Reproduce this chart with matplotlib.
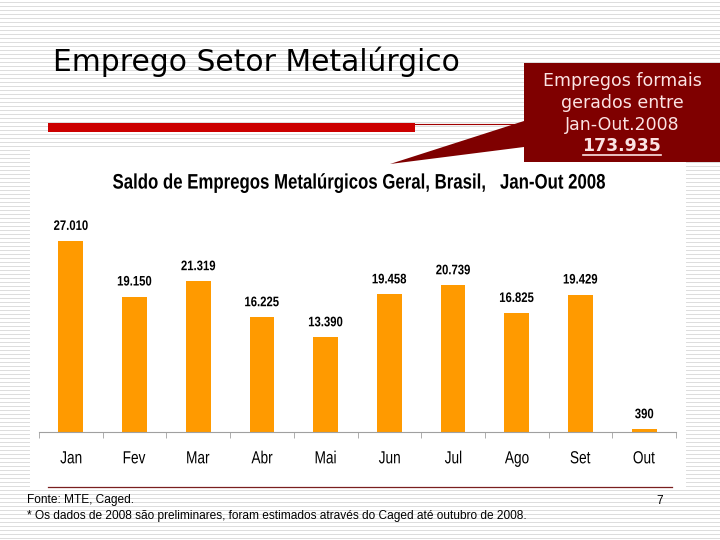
import matplotlib
matplotlib.use("Agg")
import matplotlib.pyplot as plt
from matplotlib.patches import Rectangle, Polygon, PathPatch
from matplotlib.textpath import TextPath
from matplotlib.font_manager import FontProperties
from matplotlib.transforms import Affine2D

# dados (Saldo de empregos metalúrgicos, 2008)
meses = ['Jan', 'Fev', 'Mar', 'Abr', 'Mai', 'Jun', 'Jul', 'Ago', 'Set', 'Out']
saldo = [27010, 19150, 21319, 16225, 13390, 19458, 20739, 16825, 19429, 390]
total = 173935

titulo = 'Emprego Setor Metalúrgico'
titulo_graf = 'Saldo de Empregos Metalúrgicos Geral, Brasil,   Jan-Out 2008'
caixa_txt = ['Empregos formais', 'gerados entre', 'Jan-Out.2008']
fonte = 'Fonte: MTE, Caged.'
nota = '* Os dados de 2008 são preliminares, foram estimados através do Caged até outubro de 2008.'

def fmt(v):
    return f'{v:,}'.replace(',', '.')

W, H = 720, 540
fig = plt.figure(figsize=(7.2, 5.4), dpi=100)

# fundo do slide (coordenadas em pixels, y para baixo)
bg = fig.add_axes([0, 0, 1, 1])
bg.set_xlim(0, W)
bg.set_ylim(H, 0)
bg.axis('off')

def texto_estreito(x, y, s, px, sx, weight='normal', ha='center'):
    # texto "Arial Narrow": fonte normal comprimida na horizontal
    fp = FontProperties(family='Liberation Sans', weight=weight)
    tp = TextPath((0, 0), s, size=px, prop=fp)
    ext = tp.get_extents()
    ox = (ext.x0 + ext.x1) / 2 if ha == 'center' else ext.x0
    tr = Affine2D().translate(-ox, -0.36 * px).scale(sx, -1).translate(x, y)
    bg.add_patch(PathPatch(tr.transform_path(tp), facecolor='black', edgecolor='none',
                           lw=0, zorder=5))

for y in range(1, H, 4):
    bg.axhline(y + 0.5, color='#dcdcdc', lw=0.7, zorder=0)
bg.add_patch(Rectangle((30, 150), 656, 337, facecolor='white', edgecolor='none', zorder=1))

bg.text(53, 62, titulo, fontsize=21.4, family='DejaVu Sans', va='center', ha='left', zorder=3)
bg.add_patch(Rectangle((48, 123), 367, 9, facecolor='#cc0000', edgecolor='none', zorder=2))
bg.plot([415, 524], [123.5, 123.5], color='#a00000', lw=0.8, zorder=2)

# balão
bg.add_patch(Polygon([[390, 164], [524, 121], [524, 147]], closed=True,
                     facecolor='#7f0000', edgecolor='none', zorder=3))
bg.add_patch(Rectangle((524, 63), 196, 99, facecolor='#7f0000', edgecolor='none', zorder=3))
for i, t in enumerate(caixa_txt):
    bg.text(622, 81 + 22 * i, t, fontsize=12.5, family='DejaVu Sans', color='#fbe3e3',
            ha='center', va='center', zorder=4)
tot = bg.text(622, 146, fmt(total), fontsize=12.5, family='DejaVu Sans', fontweight='bold',
              color='#fbe3e3', ha='center', va='center', zorder=4)

# rodapé
bg.plot([48, 672], [487, 487], color='#7a1f1f', lw=0.9, zorder=2)
bg.text(27, 500, fonte, fontsize=8.6, family='Liberation Sans', va='center', zorder=3)
bg.text(27, 516, nota, fontsize=8.6, family='Liberation Sans', va='center', zorder=3)
bg.text(660, 501, '7', fontsize=8.6, family='Liberation Sans', va='center', ha='center', zorder=3)

texto_estreito(359, 181, titulo_graf, 21, 0.8, weight='bold')

# gráfico de barras
ax = fig.add_axes([39 / W, (H - 432) / H, (676 - 39) / W, (432 - 200) / H])
ax.patch.set_alpha(0)
x = list(range(len(meses)))
ax.bar(x, saldo, width=0.39, color='#ff9a00', zorder=2)
ax.set_xlim(-0.5, len(meses) - 0.5)
ax.set_ylim(0, 32800)
for s in ['top', 'right', 'left']:
    ax.spines[s].set_visible(False)
ax.spines['bottom'].set_color('#a0a0a0')
ax.set_yticks([])
ax.set_xticks([])
ax.set_xticks([i - 0.5 for i in range(len(meses) + 1)], minor=True)
ax.tick_params(axis='x', which='minor', length=4, color='#a0a0a0')

# rótulos (valores e meses) com a fonte estreita
for xi, v, m in zip(x, saldo, meses):
    px, py = ax.transData.transform((xi, v))
    texto_estreito(px, H - py - 16, fmt(v), 13.8, 0.82, weight='bold')
    px0, py0 = ax.transData.transform((xi, 0))
    texto_estreito(px0, H - py0 + 25, m, 17.5, 0.78)

# sublinhado do total
fig.canvas.draw()
bb = tot.get_window_extent().transformed(bg.transData.inverted())
bg.plot([bb.x0, bb.x1], [155, 155], color='#fbe3e3', lw=1.2, zorder=4)

fig.savefig('out.png', dpi=100)
